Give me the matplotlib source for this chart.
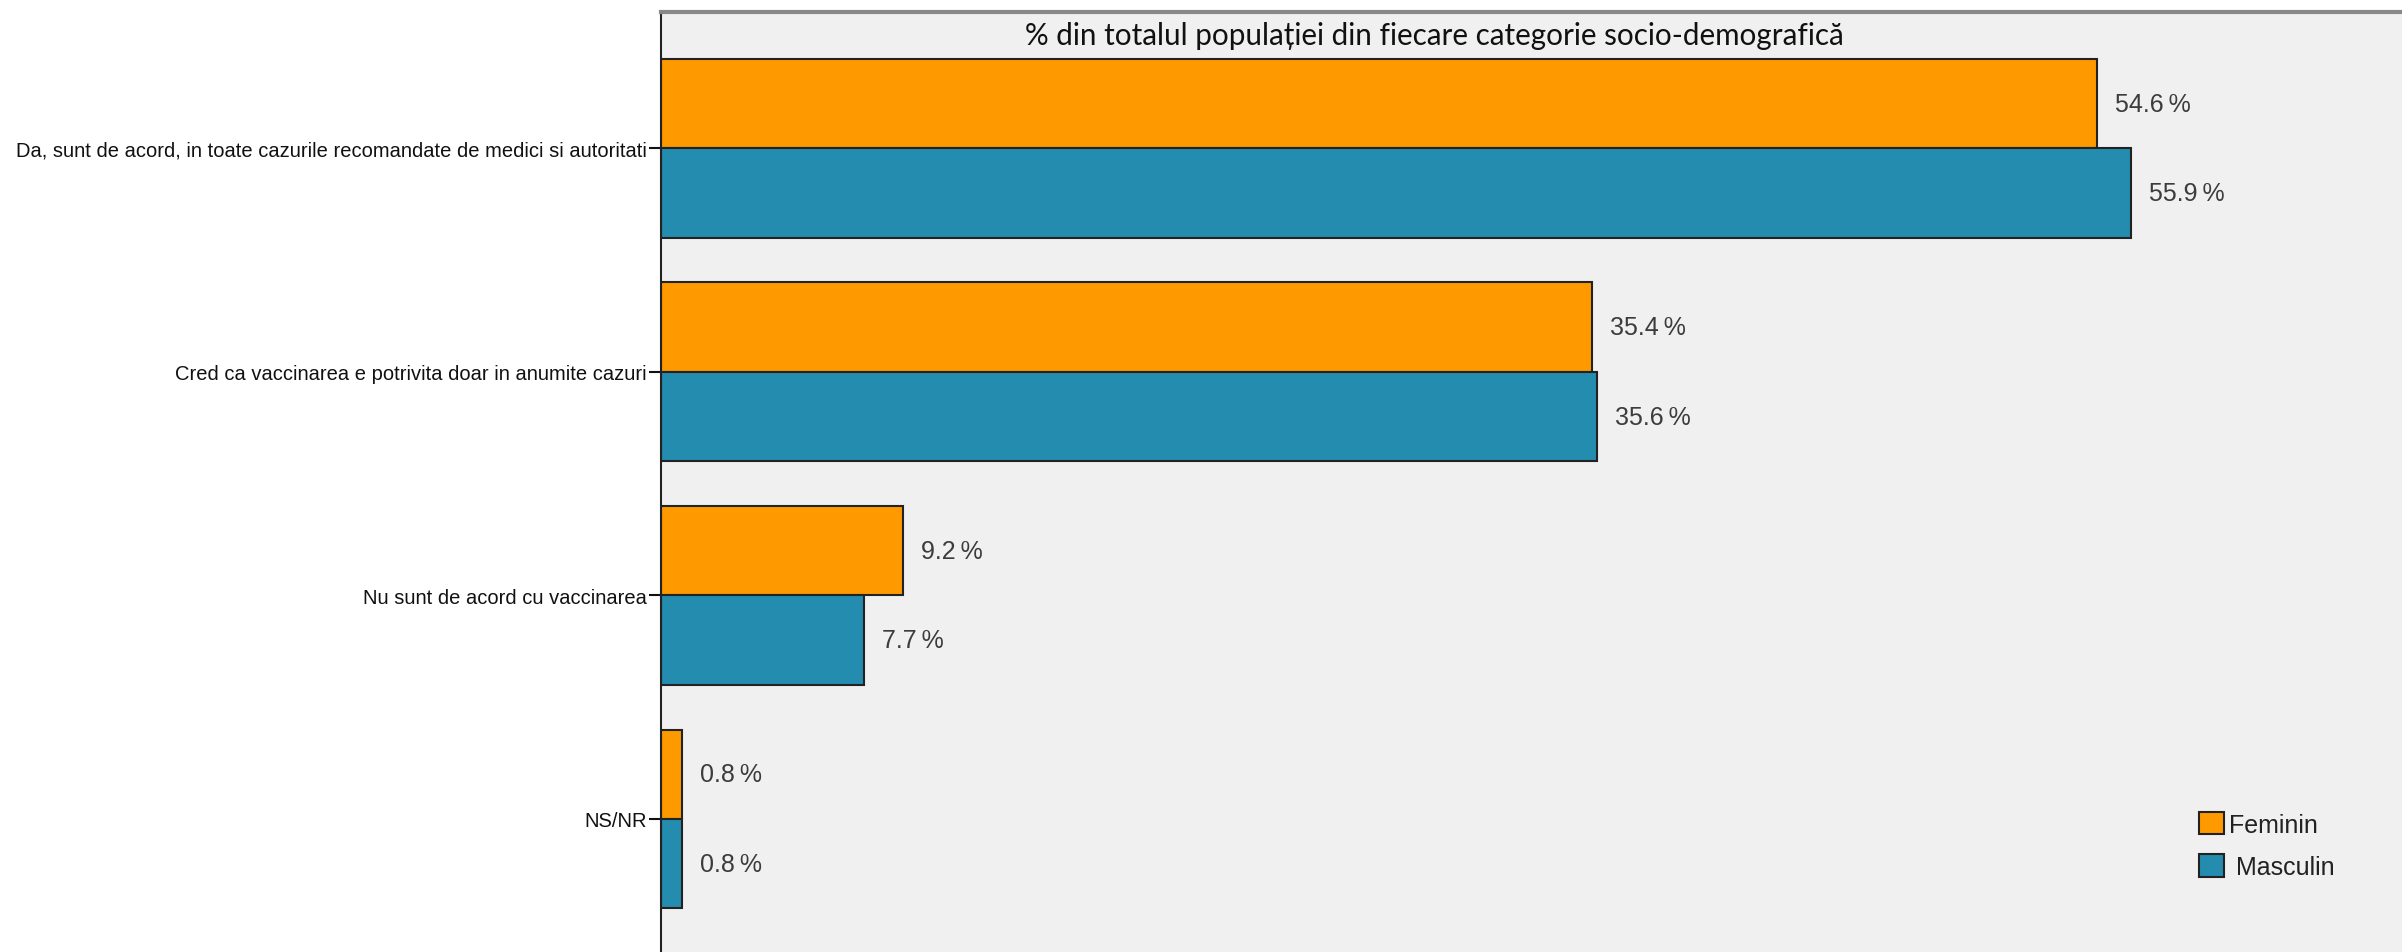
import numpy as np
import matplotlib.pyplot as plt
from matplotlib.patches import Patch

categories = ['Da, sunt de acord, in toate cazurile recomandate de medici si autoritati',
              'Cred ca vaccinarea e potrivita doar in anumite cazuri',
              'Nu sunt de acord cu vaccinarea',
              'NS/NR']
feminin = [54.6, 35.4, 9.2, 0.8]
masculin = [55.9, 35.6, 7.7, 0.8]
series_names = ['Feminin', ' Masculin']
title = '% din totalul populației din fiecare categorie socio-demografică'

orange = '#FF9900'
blue = '#248CAE'

fig = plt.figure(figsize=(24.02, 9.53), dpi=100)
ax = fig.add_axes([661 / 2402, 0, 1 - 661 / 2402, 940 / 953])
ax.set_facecolor('#F0F0F0')

y = np.arange(len(categories))
h = 0.40
ax.barh(y - h / 2, feminin, height=h, color=orange, edgecolor='#222222', linewidth=1.5)
ax.barh(y + h / 2, masculin, height=h, color=blue, edgecolor='#222222', linewidth=1.5)

# value labels to the right of each bar
for yy, v in zip(y - h / 2, feminin):
    ax.annotate(f'{v:.1f}\u2009%', xy=(v, yy), xytext=(18, 0), textcoords='offset pixels',
                va='center', ha='left', fontsize=18, color='#3c3c3c',
                family=['Liberation Sans', 'DejaVu Sans'])
for yy, v in zip(y + h / 2, masculin):
    ax.annotate(f'{v:.1f}\u2009%', xy=(v, yy), xytext=(18, 0), textcoords='offset pixels',
                va='center', ha='left', fontsize=18, color='#3c3c3c',
                family=['Liberation Sans', 'DejaVu Sans'])

ax.set_xlim(0, 66.2)
ax.set_ylim(3.595, -0.61)
ax.set_xticks([])
ax.set_yticks(y)
ax.set_yticklabels(categories, fontsize=14.5, family='Liberation Sans', color='#111111')
ax.tick_params(axis='y', length=9, width=1.5, pad=1, color='#111111')

ax.spines['right'].set_visible(False)
ax.spines['bottom'].set_visible(False)
ax.spines['top'].set_color('#888888')
ax.spines['top'].set_linewidth(3)
ax.spines['left'].set_color('#222222')
ax.spines['left'].set_linewidth(1.5)

ax.text(0.444, 1 - 23 / 940, title, transform=ax.transAxes, ha='center', va='center',
        fontsize=21.3, family='Lato', color='#111111')

handles = [Patch(facecolor=orange, edgecolor='#222222', linewidth=1.5),
           Patch(facecolor=blue, edgecolor='#222222', linewidth=1.5)]
leg = ax.legend(handles, series_names, loc='lower left',
                bbox_to_anchor=((2199 - 661) / (2402 - 661), (953 - 880) / 940),
                frameon=False, prop={'family': 'Liberation Sans', 'size': 18},
                handlelength=1.0, handleheight=1.0, handletextpad=0.2, labelspacing=0.7,
                borderaxespad=0, borderpad=0)
for t in leg.get_texts():
    t.set_color('#222222')

fig.savefig('out.png', dpi=100)
